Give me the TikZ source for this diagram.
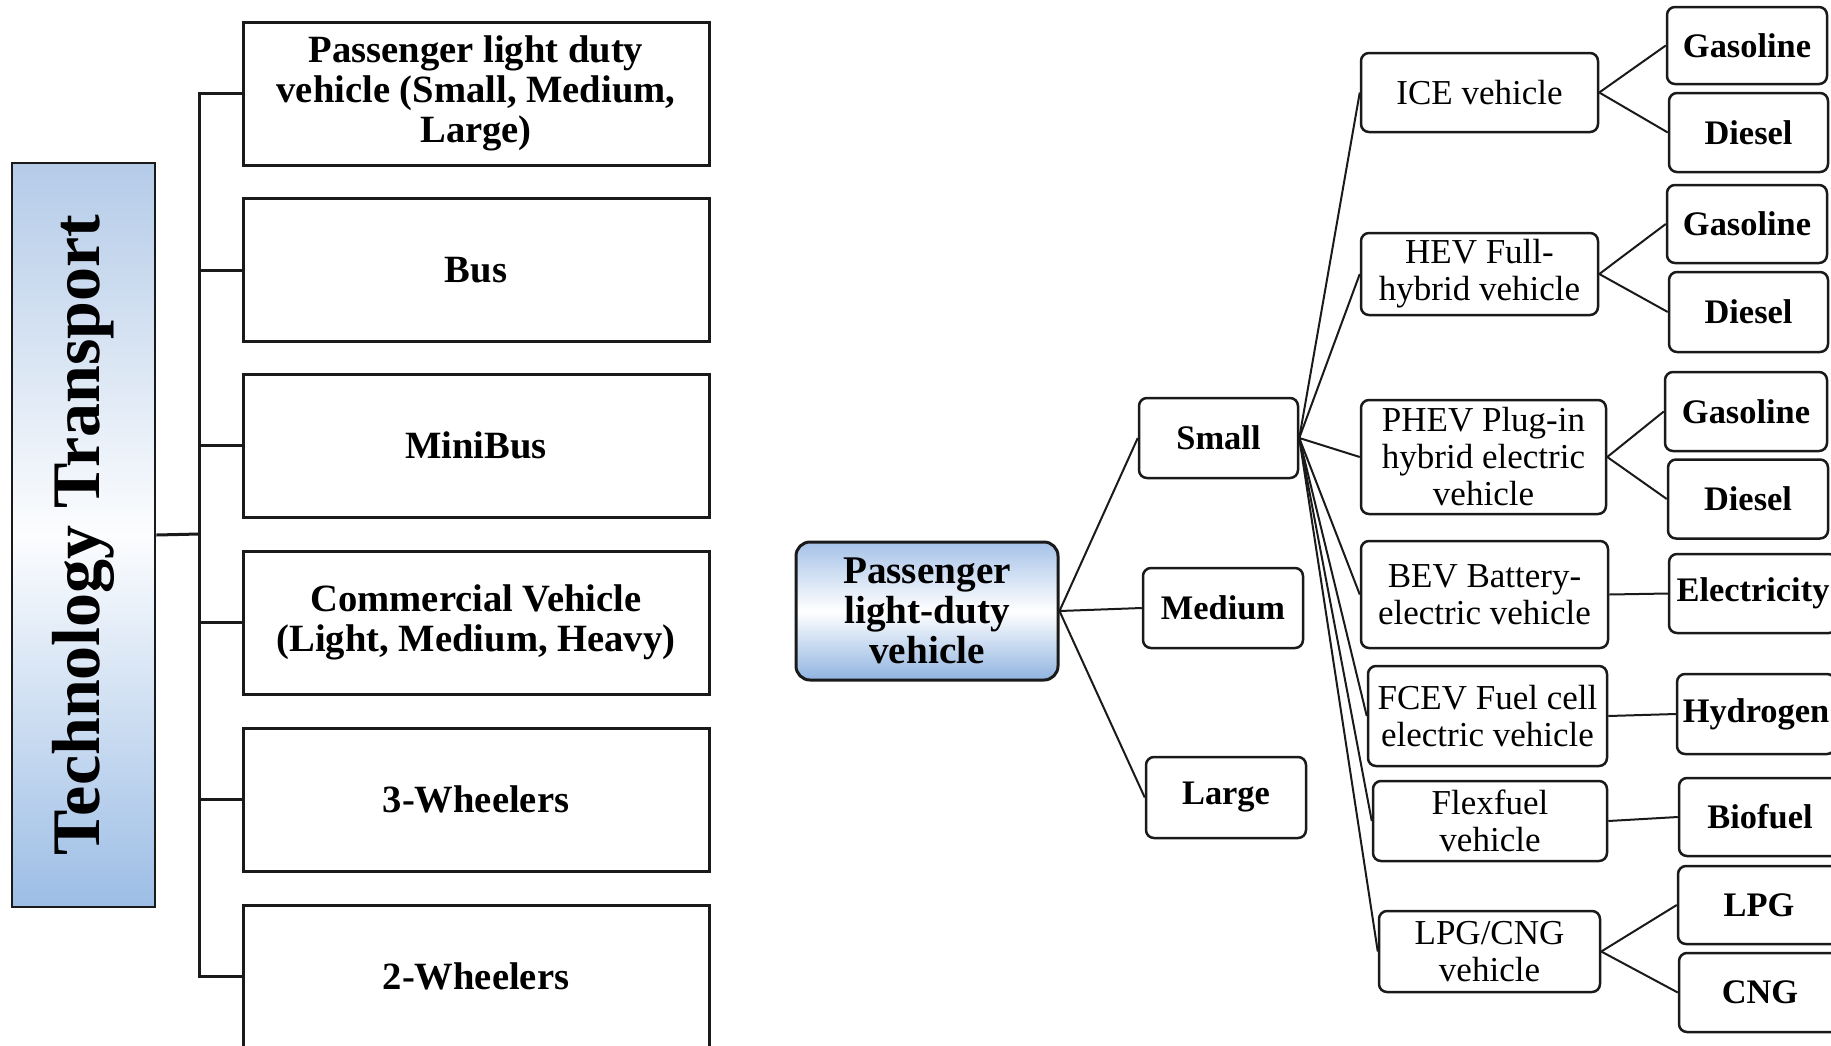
\documentclass[tikz,border=0pt]{standalone}
\usepackage{fontspec}
\setmainfont{Liberation Serif}
\definecolor{ttTop}{HTML}{B4CBE8}
\definecolor{ttBot}{HTML}{9CBDE5}
\definecolor{pTop}{HTML}{A6C2E8}
\definecolor{pBot}{HTML}{8FB3E0}
\definecolor{edgec}{HTML}{1A1A1A}
\begin{document}
\begin{tikzpicture}[x=0.5pt,y=-0.5pt,
  leftbox/.style={draw=edgec, line width=1.5pt, minimum width=233pt, minimum height=71.5pt,
    inner sep=0pt, align=center, font=\fontsize{19.3}{19.9}\selectfont\bfseries},
  lconn/.style={draw=edgec, line width=1.5pt},
  rbox/.style={draw=edgec, line width=1.25pt, rounded corners=4pt, inner sep=0pt, align=center,
    font=\fontsize{17.5}{18.5}\selectfont},
  fbox/.style={rbox, font=\fontsize{17.2}{18.5}\selectfont\bfseries},
  conn/.style={draw=edgec, line width=1pt}]
\useasboundingbox (0,0) rectangle (1831,1045);

% ---------- left part ----------
\node[draw=edgec, line width=1.4pt, minimum width=71.5pt, minimum height=372pt,
  top color=ttTop, bottom color=ttBot, middle color=white!96!ttTop, inner sep=0pt] (tt) at (83.5,535) {};
\node[rotate=90, inner sep=0pt, font=\fontsize{34}{40}\selectfont\bfseries] (ttlabel) at (tt.center) {Technology Transport};

\node[leftbox] (b1) at (476,93.5) {Passenger light duty\\vehicle (Small, Medium,\\Large)};
\node[leftbox] (b2) at (476,270) {Bus};
\node[leftbox] (b3) at (476,445.5) {MiniBus};
\node[leftbox] (b4) at (476,622.5) {Commercial Vehicle\\(Light, Medium, Heavy)};
\node[leftbox] (b5) at (476,799.5) {3-Wheelers};
\node[leftbox] (b6) at (476,976.5) {2-Wheelers};

\coordinate (bus) at (199,534);
\draw[lconn] (b1.west) -- (b1.west -| bus) -- (b6.west -| bus) -- (b6.west);
\draw[lconn] (b2.west) -- (b2.west -| bus);
\draw[lconn] (b3.west) -- (b3.west -| bus);
\draw[lconn] (b4.west) -- (b4.west -| bus);
\draw[lconn] (b5.west) -- (b5.west -| bus);
\draw[lconn] (tt.east) -- (bus);

% ---------- right part ----------
\node[draw=edgec, line width=1.5pt, rounded corners=7pt, minimum width=131pt, minimum height=69pt,
  top color=pTop, bottom color=pBot, middle color=white, inner sep=0pt, align=center,
  font=\fontsize{19.6}{19.9}\selectfont\bfseries] (pldv) at (927,611) {Passenger\\light-duty\\vehicle};

\node[fbox, minimum width=79.5pt, minimum height=40pt] (small) at (1218.5,438) {Small};
\node[fbox, minimum width=80pt, minimum height=40pt] (medium) at (1223,608) {Medium};
\node[fbox, minimum width=80pt, minimum height=40.5pt] (large) at (1226,797.5) {Large};

\node[rbox, minimum width=118.5pt, minimum height=39.5pt] (ice) at (1479.5,92.5) {ICE vehicle};
\node[rbox, minimum width=118.5pt, minimum height=41pt] (hev) at (1479.5,274) {HEV Full-\\hybrid vehicle};
\node[rbox, minimum width=122.5pt, minimum height=57pt] (phev) at (1483.5,457) {PHEV Plug-in\\hybrid electric\\vehicle};
\node[rbox, minimum width=123.5pt, minimum height=53.5pt] (bev) at (1484.5,594.5) {BEV Battery-\\electric vehicle};
\node[rbox, minimum width=119.5pt, minimum height=50pt] (fcev) at (1487.5,716) {FCEV Fuel cell\\electric vehicle};
\node[rbox, minimum width=117pt, minimum height=40pt] (flex) at (1490,821) {Flexfuel\\vehicle};
\node[rbox, minimum width=110.5pt, minimum height=40.5pt] (lpgcng) at (1489.5,951.5) {LPG/CNG\\vehicle};

\node[fbox, minimum width=80pt, minimum height=38.5pt] (g1) at (1747,45.5) {Gasoline};
\node[fbox, minimum width=79.5pt, minimum height=39.5pt] (d1) at (1748.5,132.5) {Diesel};
\node[fbox, minimum width=80pt, minimum height=39pt] (g2) at (1747,224) {Gasoline};
\node[fbox, minimum width=79.5pt, minimum height=40pt] (d2) at (1748.5,312) {Diesel};
\node[fbox, minimum width=81pt, minimum height=39.5pt] (g3) at (1746,411.5) {Gasoline};
\node[fbox, minimum width=80pt, minimum height=39.5pt] (d3) at (1748,499) {Diesel};
\node[fbox, minimum width=84pt, minimum height=39.5pt] (elec) at (1753,593.5) {Electricity};
\node[fbox, minimum width=79pt, minimum height=40pt] (hyd) at (1756,714) {Hydrogen};
\node[fbox, minimum width=81pt, minimum height=39pt] (bio) at (1760,817) {Biofuel};
\node[fbox, minimum width=81pt, minimum height=39pt] (lpg) at (1759,905) {LPG};
\node[fbox, minimum width=81pt, minimum height=39.5pt] (cng) at (1760,992.5) {CNG};

\draw[conn] (pldv.east) -- (small.west);
\draw[conn] (pldv.east) -- (medium.west);
\draw[conn] (pldv.east) -- (large.west);

\foreach \t in {ice,hev,phev,bev,fcev,flex,lpgcng}
  \draw[conn] (small.east) -- (\t.west);

\draw[conn] (ice.east) -- (g1.west);
\draw[conn] (ice.east) -- (d1.west);
\draw[conn] (hev.east) -- (g2.west);
\draw[conn] (hev.east) -- (d2.west);
\draw[conn] (phev.east) -- (g3.west);
\draw[conn] (phev.east) -- (d3.west);
\draw[conn] (bev.east) -- (elec.west);
\draw[conn] (fcev.east) -- (hyd.west);
\draw[conn] (flex.east) -- (bio.west);
\draw[conn] (lpgcng.east) -- (lpg.west);
\draw[conn] (lpgcng.east) -- (cng.west);
\end{tikzpicture}
\end{document}
